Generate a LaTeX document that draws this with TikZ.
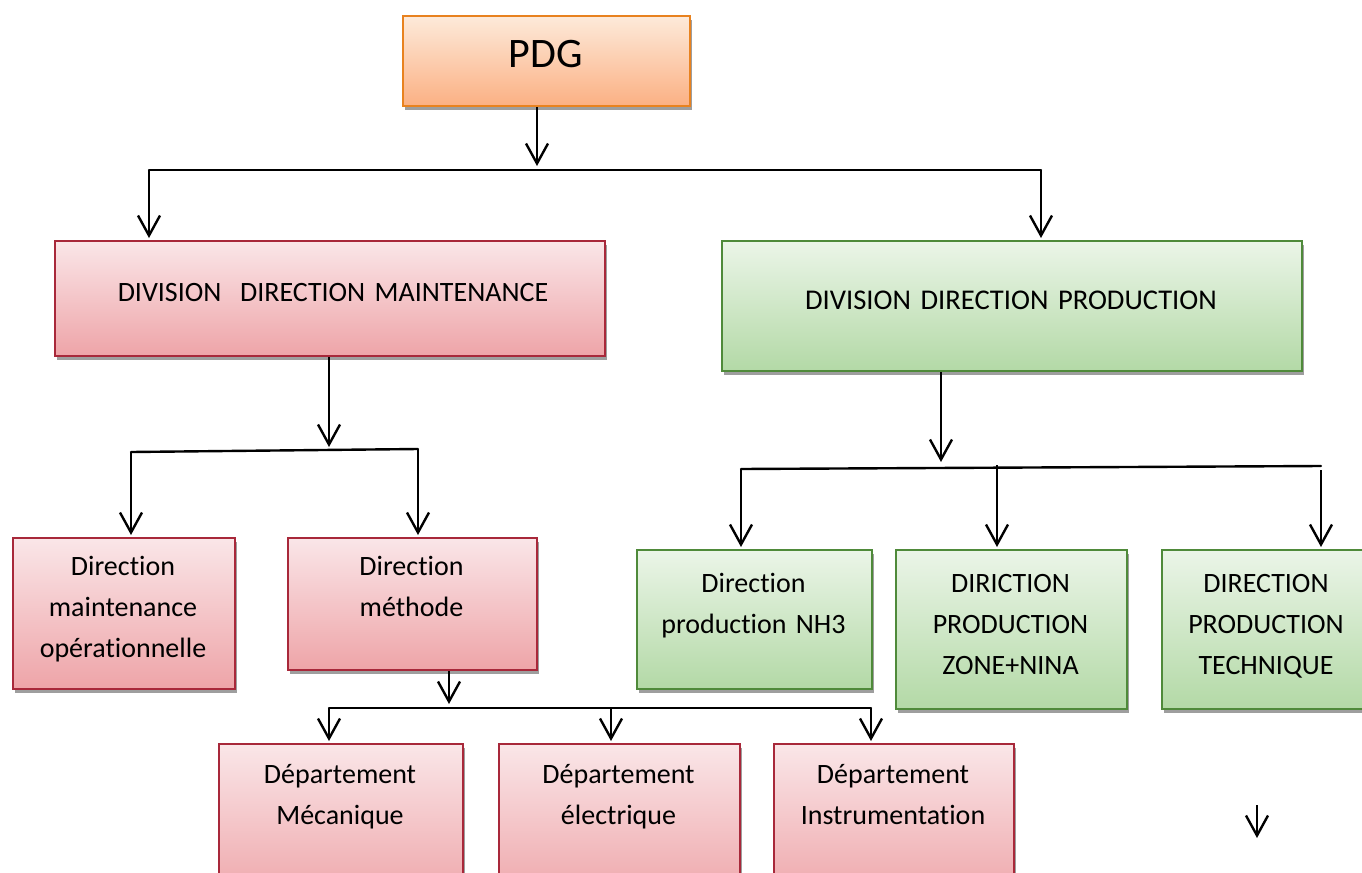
\documentclass[tikz,border=0pt]{standalone}
\usepackage{fontspec}
\setmainfont{Carlito}[Ligatures=NoCommon]
\usetikzlibrary{arrows.meta,shadows}

\definecolor{redtop}{HTML}{FAE6E8}
\definecolor{redbot}{HTML}{EEA4A8}
\definecolor{redline}{HTML}{A8283A}
\definecolor{greentop}{HTML}{EBF5E8}
\definecolor{greenbot}{HTML}{B3D9A6}
\definecolor{greenline}{HTML}{4F8A3A}
\definecolor{orangetop}{HTML}{FDEADA}
\definecolor{orangebot}{HTML}{FBB083}
\definecolor{orangeline}{HTML}{E8821F}
\definecolor{shadowgrey}{HTML}{9E9E9E}

\begin{document}
\begin{tikzpicture}[x=0.5pt,y=-0.5pt,
  box/.style={draw, line width=1pt, anchor=north west, inner sep=0pt,
    general shadow={fill=shadowgrey, shadow xshift=0.75pt, shadow yshift=-1.75pt}},
  redbox/.style={box, draw=redline, top color=redtop, bottom color=redbot},
  greenbox/.style={box, draw=greenline, top color=greentop, bottom color=greenbot},
  orangebox/.style={box, draw=orangeline, top color=orangetop, bottom color=orangebot},
  txt/.style={text width=#1, align=center, anchor=base, inner sep=0pt,
    font=\fontsize{14}{20.5}\selectfont},
  bar/.style={line width=1.2pt, line cap=round},
  conn/.style={line width=1.2pt, shorten >=1pt, -{Straight Barb[length=10pt,width=11pt]}}
]
\useasboundingbox (0,0) rectangle (1362,873);

% boxes
\node[orangebox, minimum width=143.5pt, minimum height=45pt] (pdg) at (402,15) {};
\node[redbox, minimum width=275pt, minimum height=57.5pt] (dm) at (54,240) {};
\node[greenbox, minimum width=290pt, minimum height=65pt] (dp) at (721,240) {};
\node[redbox, minimum width=111pt, minimum height=75.5pt] (dmo) at (12,537) {};
\node[redbox, minimum width=124.5pt, minimum height=66pt] (dme) at (287,537) {};
\node[greenbox, minimum width=117.5pt, minimum height=69.5pt] (nh3) at (636,549) {};
\node[greenbox, minimum width=115.5pt, minimum height=79.5pt] (zn) at (895,549) {};
\node[greenbox, minimum width=105pt, minimum height=79.5pt] (tech) at (1161,549) {};
\node[redbox, minimum width=122pt, minimum height=80pt] (mec) at (218,743) {};
\node[redbox, minimum width=120.5pt, minimum height=80pt] (elec) at (498,743) {};
\node[redbox, minimum width=120pt, minimum height=80pt] (inst) at (773,743) {};

% labels
\node[txt=130pt, font=\fontsize{21}{25}\selectfont] (t-pdg) at (545.5,67) {PDG};
\node[txt=260pt] (t-dm) at (333,301) {DIVISION~~DIRECTION MAINTENANCE};
\node[txt=270pt, font=\fontsize{14.3}{20.5}\selectfont] (t-dp) at (1011,309) {DIVISION DIRECTION PRODUCTION};
\node[txt=105pt] (t-dmo) at (123,575) {Direction\\maintenance\\opérationnelle};
\node[txt=115pt] (t-dme) at (411.5,575) {Direction\\méthode};
\node[txt=110pt] (t-nh3) at (753.5,592) {Direction\\production NH3};
\node[txt=110pt] (t-zn) at (1010.5,592) {DIRICTION\\PRODUCTION\\ZONE+NINA};
\node[txt=100pt] (t-tech) at (1266,592) {DIRECTION\\PRODUCTION\\TECHNIQUE};
\node[txt=115pt] (t-mec) at (340,783) {Département\\Mécanique};
\node[txt=115pt] (t-elec) at (618.5,783) {Département\\électrique};
\node[txt=115pt] (t-inst) at (893,783) {Département\\Instrumentation};

% PDG to the two divisions
\coordinate (b0M) at (537,168);
\coordinate (b0L) at (149,170);
\coordinate (b0R) at (1041,170);
\draw[conn] (pdg.south -| b0M) -- (b0M);
\draw[bar] (b0L) -- (b0R);
\draw[conn] (b0L) -- (b0L |- dm.north);
\draw[conn] (b0R) -- (b0R |- dp.north);

% maintenance division to its directions
\coordinate (b1M) at (329,449);
\coordinate (b1L) at (131,452);
\coordinate (b1R) at (418,449);
\draw[conn] (dm.south -| b1M) -- (b1M);
\draw[bar] (b1L) -- (b1R);
\draw[conn] (b1L) -- (b1L |- dmo.north);
\draw[conn] (b1R) -- (b1R |- dme.north);

% methods direction to the departments
\coordinate (b2M) at (449,706);
\coordinate (b2L) at (329,708);
\coordinate (b2C) at (611,708);
\coordinate (b2R) at (871,708);
\draw[conn] (dme.south -| b2M) -- (b2M);
\draw[bar] (b2L) -- (b2R);
\draw[conn] (b2L) -- (b2L |- mec.north);
\draw[conn] (b2C) -- (b2C |- elec.north);
\draw[conn] (b2R) -- (b2R |- inst.north);

% production division to its directions
\coordinate (b3M) at (941,464);
\coordinate (b3L) at (741,469);
\coordinate (b3C) at (997,465);
\coordinate (b3R) at (1321,466);
\coordinate (b3Rd) at (1321,470);
\draw[conn] (dp.south -| b3M) -- (b3M);
\draw[bar] (b3L) -- (b3R);
\draw[conn] (b3L) -- (b3L |- nh3.north);
\draw[conn] (b3C) -- (b3C |- zn.north);
\draw[conn] (b3Rd) -- (b3Rd |- tech.north);

% loose arrow
\coordinate (s1) at (1257,805);
\coordinate (s2) at (1257,840);
\draw[conn] (s1) -- (s2);
\end{tikzpicture}
\end{document}
